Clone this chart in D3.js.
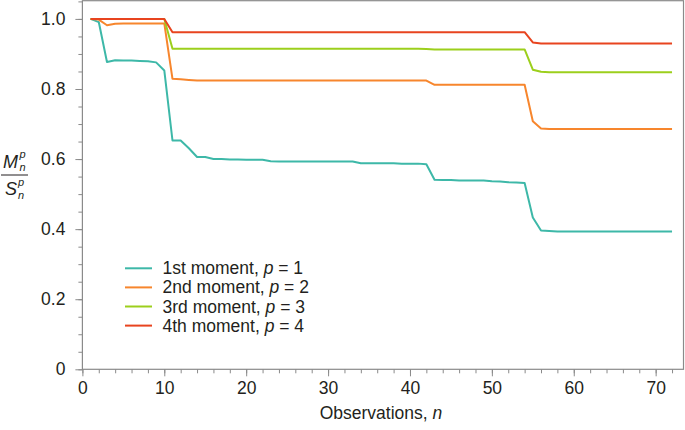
<!DOCTYPE html>
<html><head><meta charset="utf-8">
<script src="https://cdn.jsdelivr.net/npm/d3@7"></script>
<style>body{margin:0;background:#fff;} svg{display:block;font-family:"Liberation Sans",Arial,sans-serif;}</style>
</head><body><svg id="c" width="685" height="430"></svg>
<script>
const observations = d3.range(1, 73);
const seriesNames = ["1st moment", "2nd moment", "3rd moment", "4th moment"];
const seriesP = [1, 2, 3, 4];
const colors = ["#3db8a8", "#f7862d", "#9ccf1c", "#e8441f"];
const xTicks = [0, 10, 20, 30, 40, 50, 60, 70];
const yTicks = [0, 0.2, 0.4, 0.6, 0.8, 1.0];

const moment1 = [1.0,0.991,0.877,0.882,0.881,0.881,0.880,0.879,0.876,0.853,
 0.653,0.653,0.631,0.606,0.606,0.600,0.600,0.599,0.599,0.598,
 0.598,0.598,0.594,0.593,0.593,0.593,0.593,0.593,0.593,0.593,
 0.593,0.593,0.593,0.588,0.588,0.588,0.588,0.588,0.587,0.587,
 0.587,0.585,0.541,0.540,0.540,0.539,0.539,0.539,0.539,0.537,
 0.536,0.534,0.533,0.532,0.433,0.396,0.395,0.393,0.393,0.393,
 0.393,0.393,0.393,0.393,0.393,0.393,0.393,0.393,0.393,0.393,
 0.393,0.393];
const moment2 = [1.0,0.998,0.982,0.986,0.987,0.987,0.987,0.987,0.987,0.987,
 0.829,0.828,0.826,0.824,0.824,0.824,0.824,0.824,0.824,0.824,
 0.824,0.824,0.824,0.824,0.824,0.824,0.824,0.824,0.824,0.824,
 0.824,0.824,0.824,0.824,0.824,0.824,0.824,0.824,0.824,0.824,
 0.824,0.824,0.812,0.812,0.812,0.812,0.812,0.812,0.812,0.812,
 0.812,0.812,0.812,0.812,0.708,0.687,0.686,0.686,0.686,0.686,
 0.686,0.686,0.686,0.686,0.686,0.686,0.686,0.686,0.686,0.686,
 0.686,0.686];
const moment3 = [1.0,1.0,1.0,1.0,1.0,1.0,1.0,1.0,1.0,1.0,
 0.915,0.915,0.915,0.915,0.915,0.915,0.915,0.915,0.915,0.915,
 0.915,0.915,0.915,0.915,0.915,0.915,0.915,0.915,0.915,0.915,
 0.915,0.915,0.915,0.915,0.915,0.915,0.915,0.915,0.915,0.915,
 0.915,0.914,0.913,0.913,0.913,0.913,0.913,0.913,0.913,0.913,
 0.913,0.913,0.913,0.913,0.855,0.849,0.848,0.848,0.848,0.848,
 0.848,0.848,0.848,0.848,0.848,0.848,0.848,0.848,0.848,0.848,
 0.848,0.848];
const moment4 = [1.0,1.0,1.0,1.0,1.0,1.0,1.0,1.0,1.0,1.0,
 0.962,0.962,0.962,0.962,0.962,0.962,0.962,0.962,0.962,0.962,
 0.962,0.962,0.962,0.962,0.962,0.962,0.962,0.962,0.962,0.962,
 0.962,0.962,0.962,0.962,0.962,0.962,0.962,0.962,0.962,0.962,
 0.962,0.962,0.962,0.962,0.962,0.962,0.962,0.962,0.962,0.962,
 0.962,0.962,0.962,0.962,0.933,0.930,0.930,0.930,0.930,0.930,
 0.930,0.930,0.930,0.930,0.930,0.930,0.930,0.930,0.930,0.930,
 0.930,0.930];
const allSeries = [moment1, moment2, moment3, moment4];

const svg = d3.select("#c");
const L = 82.4, R = 683.5, T = 0.7, B = 369.3;
const x = d3.scaleLinear().domain([0, 73.4]).range([L, R]);
const y = d3.scaleLinear().domain([0, 1.052]).range([B, T]);
const axisColor = "#8a8a8a";
const textColor = "#231f20";

// frame
svg.append("rect").attr("x", L).attr("y", T).attr("width", R - L).attr("height", B - T)
  .attr("fill", "none").attr("stroke", axisColor).attr("stroke-width", 1.2);

// x axis
const xAxis = svg.append("g").attr("transform", `translate(0,${B})`);
xAxis.call(d3.axisBottom(x).tickValues(d3.range(0, 74, 2)).tickSize(4).tickFormat(""));
xAxis.call(g => g.select(".domain").remove());
xAxis.selectAll("line").attr("stroke", axisColor);
const xMaj = svg.append("g").attr("transform", `translate(0,${B})`)
  .call(d3.axisBottom(x).tickValues(xTicks).tickSize(7).tickPadding(5).tickFormat(d3.format("d")));
xMaj.select(".domain").remove();
xMaj.selectAll("line").attr("stroke", axisColor);
xMaj.selectAll("text").attr("fill", textColor).style("font-size", "17.5px").attr("font-family", null);

// y axis
const yAxis = svg.append("g").attr("transform", `translate(${L},0)`);
yAxis.call(d3.axisLeft(y).tickValues(d3.range(0, 1.051, 0.05)).tickSize(4).tickFormat(""));
yAxis.call(g => g.select(".domain").remove());
yAxis.selectAll("line").attr("stroke", axisColor);
const yMaj = svg.append("g").attr("transform", `translate(${L},0)`)
  .call(d3.axisLeft(y).tickValues(yTicks).tickSize(7).tickPadding(10)
    .tickFormat(d => d === 0 ? "0" : d3.format(".1f")(d)));
yMaj.select(".domain").remove();
yMaj.selectAll("line").attr("stroke", axisColor);
yMaj.selectAll("text").attr("fill", textColor).style("font-size", "17.5px").attr("font-family", null);

// lines
const line = d3.line().x((d, i) => x(observations[i])).y(d => y(d));
allSeries.forEach((s, i) => {
  svg.append("path").datum(s).attr("d", line).attr("fill", "none")
    .attr("stroke", colors[i]).attr("stroke-width", 2).attr("stroke-linejoin", "round");
});

// legend
const lg = svg.append("g");
seriesNames.forEach((name, i) => {
  const yy = 268.3 + i * 19.1;
  lg.append("line").attr("x1", 125).attr("x2", 152).attr("y1", yy).attr("y2", yy)
    .attr("stroke", colors[i]).attr("stroke-width", 2);
  const t = lg.append("text").attr("x", 162.5).attr("y", yy + 6).attr("fill", textColor)
    .style("font-size", "17.5px");
  t.append("tspan").text(name + ", ");
  t.append("tspan").attr("font-style", "italic").text("p");
  t.append("tspan").text(" = " + seriesP[i]);
});

// x title
const xt = svg.append("text").attr("x", (L + R) / 2 - 2).attr("y", 419).attr("text-anchor", "middle")
  .attr("fill", textColor).style("font-size", "17.5px");
xt.append("tspan").text("Observations, ");
xt.append("tspan").attr("font-style", "italic").text("n");

// y title: fraction
const yl = svg.append("g").attr("fill", textColor).attr("font-style", "italic");
yl.append("text").attr("x", 3).attr("y", 168).style("font-size", "18px").text("M");
yl.append("text").attr("x", 19.5).attr("y", 158).style("font-size", "11px").text("p");
yl.append("text").attr("x", 19.5).attr("y", 171).style("font-size", "11px").text("n");
yl.append("line").attr("x1", 1).attr("x2", 28).attr("y1", 175).attr("y2", 175)
  .attr("stroke", textColor).attr("stroke-width", 1);
yl.append("text").attr("x", 5).attr("y", 195).style("font-size", "18px").text("S");
yl.append("text").attr("x", 18).attr("y", 186).style("font-size", "11px").text("p");
yl.append("text").attr("x", 18).attr("y", 199).style("font-size", "11px").text("n");
</script></body></html>
